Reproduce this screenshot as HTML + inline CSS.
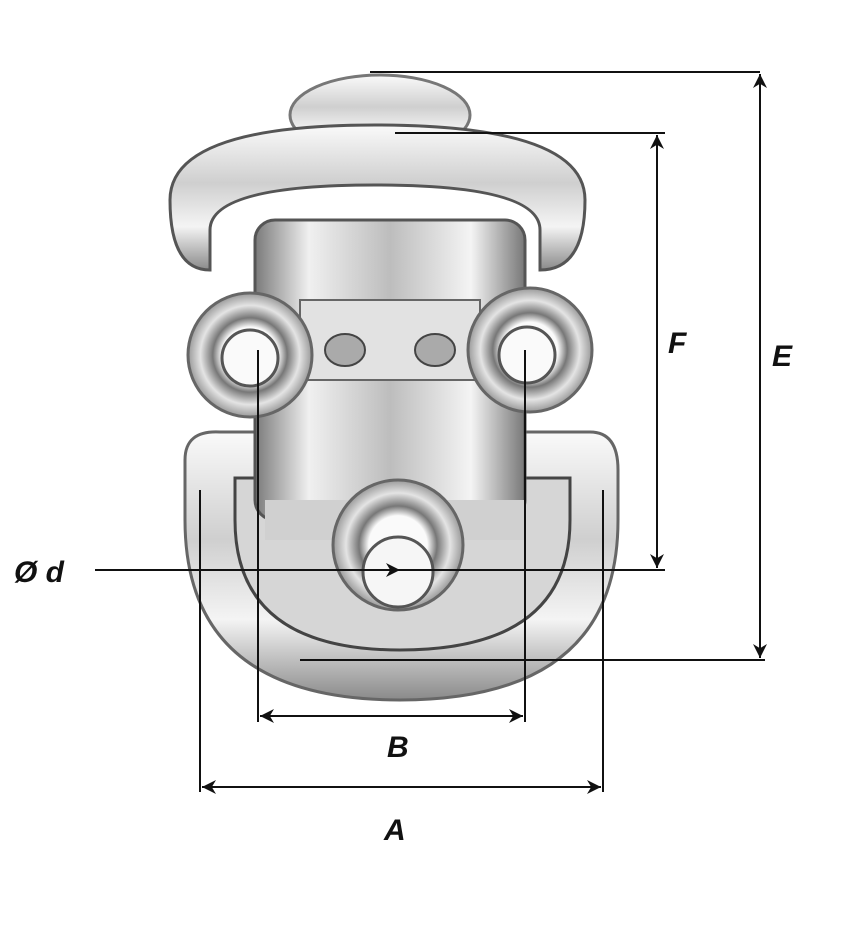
<!DOCTYPE html>
<html><head><meta charset="utf-8"><style>
html,body{margin:0;padding:0;background:#fff;}
svg{display:block}
text{font-family:"Liberation Sans",sans-serif;font-weight:bold;font-style:italic;fill:#111}
</style></head><body>
<svg width="852" height="936" viewBox="0 0 852 936" xmlns="http://www.w3.org/2000/svg">
<defs>
<linearGradient id="m" x1="0" y1="0" x2="0" y2="1">
<stop offset="0" stop-color="#fafafa"/><stop offset="0.4" stop-color="#cfcfcf"/><stop offset="0.7" stop-color="#f4f4f4"/><stop offset="1" stop-color="#8a8a8a"/></linearGradient>
<linearGradient id="m2" x1="0" y1="0" x2="1" y2="0">
<stop offset="0" stop-color="#7a7a7a"/><stop offset="0.2" stop-color="#f0f0f0"/><stop offset="0.5" stop-color="#bdbdbd"/><stop offset="0.8" stop-color="#f4f4f4"/><stop offset="1" stop-color="#777"/></linearGradient>
<radialGradient id="h"><stop offset="0.45" stop-color="#fafafa"/><stop offset="0.6" stop-color="#777"/><stop offset="0.8" stop-color="#e4e4e4"/><stop offset="1" stop-color="#999"/></radialGradient>
<marker id="a" viewBox="0 0 10 10" refX="10" refY="5" markerWidth="20" markerHeight="14" orient="auto-start-reverse" markerUnits="userSpaceOnUse"><path d="M0,0 L10,5 L0,10 L3,5 z" fill="#111"/></marker>
</defs>
<ellipse cx="380" cy="115" rx="90" ry="40" fill="url(#m)" stroke="#777" stroke-width="3"/>
<path d="M185,460 Q185,430 220,432 L590,432 Q618,432 618,470 L618,520 Q618,700 400,700 Q185,700 185,520 Z" fill="url(#m)" stroke="#666" stroke-width="3"/>
<path d="M235,478 L570,478 L570,520 Q570,650 400,650 Q235,650 235,520 Z" fill="#d6d6d6" stroke="#444" stroke-width="3"/>
<rect x="255" y="220" width="270" height="300" rx="20" fill="url(#m2)" stroke="#555" stroke-width="3"/>
<rect x="300" y="300" width="180" height="80" fill="#e2e2e2" stroke="#666" stroke-width="2"/>
<ellipse cx="345" cy="350" rx="20" ry="16" fill="#aaa" stroke="#444" stroke-width="2"/>
<ellipse cx="435" cy="350" rx="20" ry="16" fill="#aaa" stroke="#444" stroke-width="2"/>
<path d="M170,200 Q170,125 375,125 Q585,125 585,200 Q585,270 540,270 L540,230 Q540,185 375,185 Q210,185 210,230 L210,270 Q170,270 170,200 Z" fill="url(#m)" stroke="#555" stroke-width="3"/>
<circle cx="250" cy="355" r="62" fill="url(#h)" stroke="#666" stroke-width="3"/>
<circle cx="250" cy="358" r="28" fill="#fafafa" stroke="#555" stroke-width="3"/>
<circle cx="530" cy="350" r="62" fill="url(#h)" stroke="#666" stroke-width="3"/>
<circle cx="527" cy="355" r="28" fill="#fafafa" stroke="#555" stroke-width="3"/>
<rect x="265" y="500" width="260" height="40" fill="#d0d0d0"/>
<circle cx="398" cy="545" r="65" fill="url(#h)" stroke="#666" stroke-width="3"/>
<circle cx="398" cy="572" r="35" fill="#f6f6f6" stroke="#555" stroke-width="3"/>
<g stroke="#111" stroke-width="2" fill="none">
<line x1="370" y1="72" x2="760" y2="72"/>
<line x1="760" y1="74" x2="760" y2="658" marker-start="url(#a)" marker-end="url(#a)"/>
<line x1="300" y1="660" x2="765" y2="660"/>
<line x1="395" y1="133" x2="665" y2="133"/>
<line x1="657" y1="135" x2="657" y2="568" marker-start="url(#a)" marker-end="url(#a)"/>
<line x1="400" y1="570" x2="665" y2="570"/>
<line x1="95" y1="570" x2="400" y2="570" marker-end="url(#a)"/>
<line x1="258" y1="350" x2="258" y2="722"/>
<line x1="525" y1="350" x2="525" y2="722"/>
<line x1="260" y1="716" x2="523" y2="716" marker-start="url(#a)" marker-end="url(#a)"/>
<line x1="200" y1="490" x2="200" y2="792"/>
<line x1="603" y1="490" x2="603" y2="792"/>
<line x1="202" y1="787" x2="601" y2="787" marker-start="url(#a)" marker-end="url(#a)"/>
</g>
<text x="772" y="366" font-size="30">E</text>
<text x="668" y="353" font-size="30">F</text>
<text x="387" y="757" font-size="30">B</text>
<text x="384" y="840" font-size="30">A</text>
<text x="14" y="582" font-size="30">Ø d</text>
</svg>
</body></html>
